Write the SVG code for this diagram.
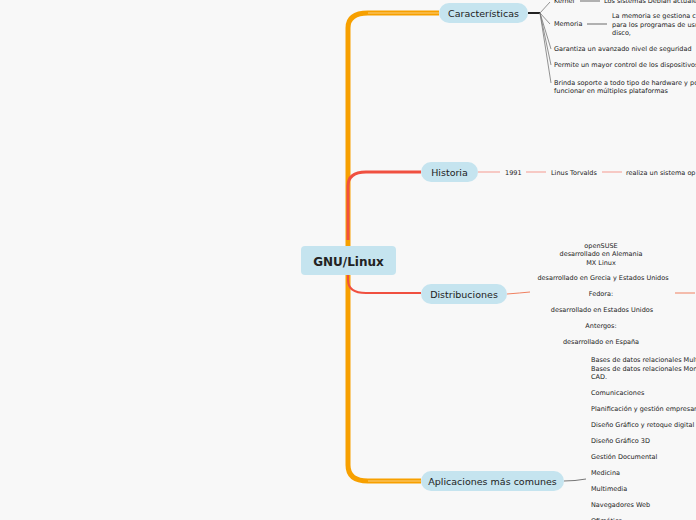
<svg xmlns="http://www.w3.org/2000/svg" width="696" height="520" viewBox="0 0 696 520">
<style>
text{font-family:"DejaVu Sans",Verdana,sans-serif;fill:#222}
.s{font-size:6.5px}
.m{font-size:9.5px}
.node rect{fill:#c5e4ef}
</style>
<rect width="696" height="520" fill="#f8f8f8"/>
<g id="connectors" fill="none">
<path d="M348,258 V28 Q348,13 368,13 H439" stroke="#f7a000" stroke-width="5"/>
<path d="M368,13 H439" stroke="#fbd080" stroke-width="1"/>
<path d="M348,258 V465 Q348,481 368,481 H421" stroke="#f7a000" stroke-width="5"/>
<path d="M368,481 H421" stroke="#fbd080" stroke-width="1"/>
<path d="M348,240 V186 Q348,172 366,172 H421" stroke="#f05040" stroke-width="3"/>
<path d="M348,262 V280 Q348,293 366,293 H421" stroke="#f05040" stroke-width="2"/>
<path d="M528,13 H540" stroke="#222" stroke-width="2"/>
<path d="M540,13 L550,2 M540,13 L550,24 M540,13 L551,49 M540,13 L551,65 M540,13 L551,83" stroke="#777" stroke-width="0.8"/>
<path d="M580,1 H600 M587,24 H607" stroke="#999" stroke-width="1.5"/>
<path d="M478,172 H500 M526,172 H546 M602,172 H622" stroke="#f59a90" stroke-width="1"/>
<path d="M507,294 Q520,293 530,292 M675,293 H695" stroke="#f08060" stroke-width="1"/>
<path d="M564,481 Q575,481 586,479" stroke="#777" stroke-width="1"/>
</g>
<g id="center" class="node"><rect x="301" y="246" width="95" height="29" rx="4"/><text x="348.5" y="265.5" text-anchor="middle" font-size="12" font-weight="bold">GNU/Linux</text></g>
<g id="caracteristicas" class="node"><rect x="439" y="3" width="89" height="20" rx="10"/><text class="m" x="483.5" y="16.5" text-anchor="middle">Características</text></g>
<g id="historia" class="node"><rect x="421" y="162" width="57" height="20" rx="10"/><text class="m" x="449.5" y="175.5" text-anchor="middle">Historia</text></g>
<g id="distribuciones" class="node"><rect x="421" y="284" width="86" height="20" rx="10"/><text class="m" x="464" y="297.5" text-anchor="middle">Distribuciones</text></g>
<g id="aplicaciones" class="node"><rect x="421" y="471" width="143" height="20" rx="10"/><text class="m" x="492.5" y="484.5" text-anchor="middle">Aplicaciones más comunes</text></g>
<g id="carac-items" class="s">
<text x="554" y="3">Kernel</text><text x="604" y="3">Los sistemas Debian actuales</text>
<text x="554" y="26">Memoria</text>
<text x="612" y="18">La memoria se gestiona c</text><text x="612" y="26.5">para los programas de usu</text><text x="612" y="35">disco,</text>
<text x="554" y="51">Garantiza un avanzado nivel de seguridad</text>
<text x="554" y="67">Permite un mayor control de los dispositivos</text>
<text x="554" y="85">Brinda soporte a todo tipo de hardware y po</text><text x="554" y="93">funcionar en múltiples plataformas</text>
</g>
<g id="historia-items" class="s">
<text x="505" y="174.5">1991</text><text x="551" y="174.5">Linus Torvalds</text><text x="626" y="174.5">realiza un sistema op</text>
</g>
<g id="distro-items" class="s" text-anchor="middle">
<text x="601" y="247.5">openSUSE</text><text x="601" y="256">desarrollado en Alemania</text><text x="601" y="264.5">MX Linux</text>
<text x="603" y="280">desarrollado en  Grecia y Estados Unidos</text>
<text x="601" y="296">Fedora:</text>
<text x="602" y="312">desarrollado en Estados Unidos</text>
<text x="601" y="328">Antergos:</text>
<text x="601" y="344">desarrollado en España</text>
</g>
<g id="apps-items" class="s">
<text x="591" y="362">Bases de datos relacionales Mult</text><text x="591" y="370.5">Bases de datos relacionales Mon</text><text x="591" y="379">CAD.</text>
<text x="591" y="395">Comunicaciones</text>
<text x="591" y="411">Planificación y gestión empresar</text>
<text x="591" y="427">Diseño Gráfico y retoque digital</text>
<text x="591" y="443">Diseño Gráfico 3D</text>
<text x="591" y="459">Gestión Documental</text>
<text x="591" y="475">Medicina</text>
<text x="591" y="491">Multimedia</text>
<text x="591" y="507">Navegadores Web</text>
<text x="591" y="523">Ofimática</text>
</g>
</svg>
